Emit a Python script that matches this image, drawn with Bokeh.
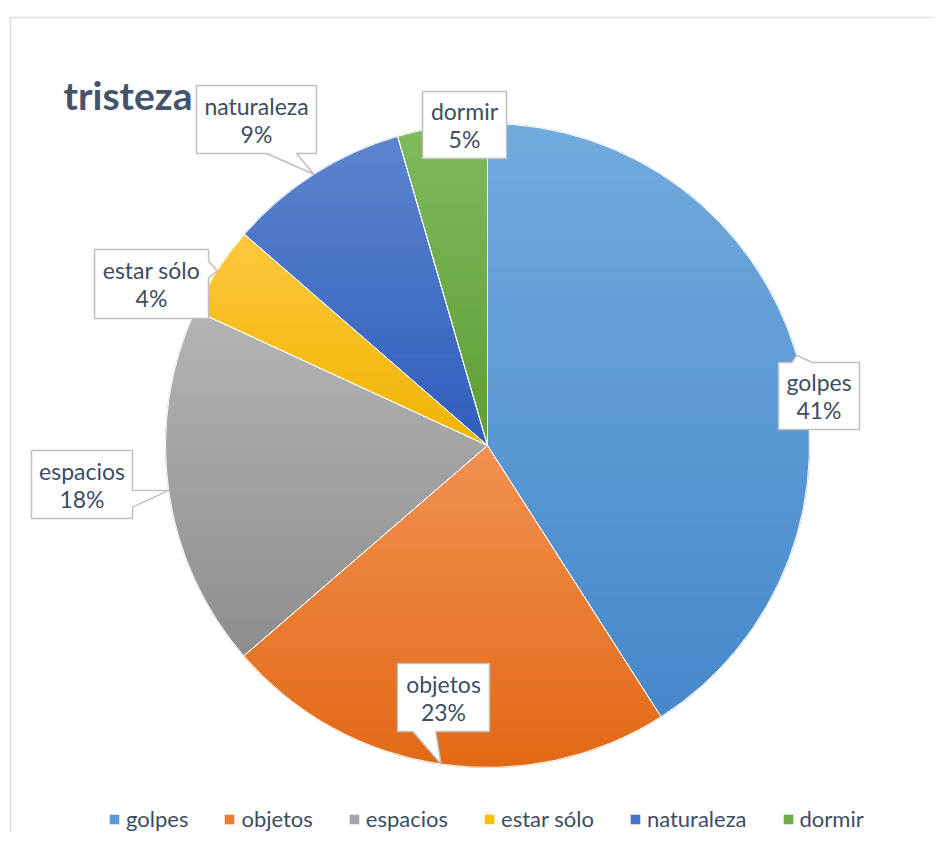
import math
from bokeh.plotting import figure
from bokeh.models import Range1d, Legend, LegendItem, ColumnDataSource
from bokeh.core.properties import value
from bokeh.embed import file_html
from bokeh.resources import INLINE

# ---------------- data ----------------
categories = ["golpes", "objetos", "espacios", "estar sólo", "naturaleza", "dormir"]
values = [40.9, 22.7, 18.2, 4.5, 9.1, 4.5]
pct_labels = ["41%", "23%", "18%", "4%", "9%", "5%"]
title_text = "tristeza"

# ---------------- style ----------------
base_colors = ["#5B9BD5", "#ED7D31", "#A5A5A5", "#FFC000", "#4472C4", "#70AD47"]
light_colors = ["#72aadd", "#f29152", "#b4b4b4", "#ffc83f", "#5c86ce", "#80ba5e"]
dark_colors = ["#4688cb", "#e26915", "#8e8e8e", "#f0b400", "#2f5dbc", "#5e9f33"]
text_color = "#404d5f"
title_color = "#44546A"
FONT = "Lato"

# ---------------- layout (image pixel space) ----------------
W, H = 933, 832
PAGE_H = 848


def dy(y):  # image y (down) -> data y (up)
    return PAGE_H - y


CX, CY, R = 487, 445, 322
label_box_cx = [818.5, 443, 81.5, 151, 256, 464]
label_box_cy = [395.5, 697, 484, 283.5, 119, 124.5]
label_box_w = [81, 92, 101, 114, 120, 84]
label_box_h = [67, 68, 68, 69, 68, 67]

p = figure(width=W, height=H, output_backend="svg", toolbar_location=None,
           x_range=Range1d(0, W), y_range=Range1d(PAGE_H - H, PAGE_H), min_border=0)
p.axis.visible = False
p.grid.visible = False
p.outline_line_color = None
p.background_fill_color = "white"

# chart border (top + left edges visible)
p.line(x=[10, 10, 1000], y=[dy(900), dy(17), dy(17)], line_color="#d9dee5", line_width=1.5)

# ---------------- pie ----------------
total = sum(values)
cum = [0.0]
for v in values:
    cum.append(cum[-1] + v / total)
starts = [math.pi / 2 - 2 * math.pi * cum[i + 1] for i in range(len(values))]
ends = [math.pi / 2 - 2 * math.pi * cum[i] for i in range(len(values))]

src = ColumnDataSource(dict(start=starts, end=ends, color=base_colors, cat=categories))
base = p.wedge(x=CX, y=dy(CY), radius=R, start_angle="start", end_angle="end",
               fill_color="color", line_alpha=0, source=src)


def clip_y(poly, yb, keep_above):
    out = []
    n = len(poly)
    for i in range(n):
        P = poly[i]
        Q = poly[(i + 1) % n]
        pin = P[1] >= yb if keep_above else P[1] <= yb
        qin = Q[1] >= yb if keep_above else Q[1] <= yb
        if pin:
            out.append(P)
        if pin != qin:
            t = (yb - P[1]) / (Q[1] - P[1])
            out.append((P[0] + t * (Q[0] - P[0]), yb))
    return out


def hex2rgb(h):
    h = h.lstrip("#")
    return tuple(int(h[i:i + 2], 16) for i in (0, 2, 4))


def mix(c1, c2, t):
    a, b = hex2rgb(c1), hex2rgb(c2)
    return "#%02x%02x%02x" % tuple(int(round(a[k] + (b[k] - a[k]) * t)) for k in range(3))


# gradient bands per slice (light at top, dark at bottom)
gx, gy, gc = [], [], []
NB = 40
for i in range(len(values)):
    a0 = 2 * math.pi * cum[i]
    a1 = 2 * math.pi * cum[i + 1]
    n = max(4, int((a1 - a0) / (math.pi / 180)))
    poly = [(CX, dy(CY))]
    for k in range(n + 1):
        a = a0 + (a1 - a0) * k / n
        poly.append((CX + R * math.sin(a), dy(CY) + R * math.cos(a)))
    ys = [q[1] for q in poly]
    ymin, ymax = min(ys), max(ys)
    for b in range(NB):
        y_top = ymax - (ymax - ymin) * b / NB
        y_bot = ymax - (ymax - ymin) * (b + 1) / NB
        band = clip_y(clip_y(poly, y_bot, True), y_top, False)
        if len(band) < 3:
            continue
        gx.append([q[0] for q in band])
        gy.append([q[1] for q in band])
        gc.append(mix(light_colors[i], dark_colors[i], (b + 0.5) / NB))
p.patches(xs=gx, ys=gy, fill_color=gc, line_color=gc, line_width=0.7)

# slice separators
p.wedge(x=CX, y=dy(CY), radius=R, start_angle="start", end_angle="end",
        fill_alpha=0, line_color="white", line_width=1, source=src)

# ---------------- data callouts ----------------
cxs, cys = [], []
l1x, l1y, l1t, l2t, l2y = [], [], [], [], []
for i in range(len(values)):
    mid = 2 * math.pi * (cum[i] + cum[i + 1]) / 2
    tx = CX + R * math.sin(mid)
    ty = CY - R * math.cos(mid)
    bx, by, w, h = label_box_cx[i], label_box_cy[i], label_box_w[i], label_box_h[i]
    l, r, t, b = bx - w / 2, bx + w / 2, by - h / 2, by + h / 2
    ddx, ddy = tx - bx, ty - by
    inside = l <= tx <= r and t <= ty <= b
    edge = None
    if not inside:
        dq = ddx * h / w
        if abs(ddy) > abs(dq):
            edge = "top" if ddy < 0 else "bottom"
        else:
            edge = "left" if ddx < 0 else "right"
    fx = (7, 10) if ddx > 0 else (2, 5)
    fy = (7, 10) if ddy > 0 else (2, 5)
    x1, x2 = l + w * fx[0] / 12, l + w * fx[1] / 12
    y1, y2 = t + h * fy[0] / 12, t + h * fy[1] / 12
    pts = [(l, t)]
    if edge == "top":
        pts += [(x1, t), (tx, ty), (x2, t)]
    pts.append((r, t))
    if edge == "right":
        pts += [(r, y1), (tx, ty), (r, y2)]
    pts.append((r, b))
    if edge == "bottom":
        pts += [(x2, b), (tx, ty), (x1, b)]
    pts.append((l, b))
    if edge == "left":
        pts += [(l, y2), (tx, ty), (l, y1)]
    cxs.append([q[0] for q in pts])
    cys.append([dy(q[1]) for q in pts])
    l1x.append(bx)
    l1y.append(dy(by - 14))
    l2y.append(dy(by + 14))
    l1t.append(categories[i])
    l2t.append(pct_labels[i])

p.patches(xs=cxs, ys=cys, fill_color="white", line_color="#bfbfbf", line_width=1.5)
p.text(x=l1x, y=l1y, text=l1t, text_align="center", text_baseline="middle",
       text_font=value(FONT), text_font_size="23px", text_color=text_color)
p.text(x=l1x, y=l2y, text=l2t, text_align="center", text_baseline="middle",
       text_font=value(FONT), text_font_size="23px", text_color=text_color)

# ---------------- title ----------------
p.text(x=[63], y=[dy(94)], text=[title_text], text_align="left", text_baseline="alphabetic",
       text_font=value(FONT), text_font_style="bold", text_font_size="39px",
       text_color=title_color)

# ---------------- legend ----------------
items = [LegendItem(label=categories[i], renderers=[base], index=i) for i in range(len(categories))]
legend = Legend(items=items, orientation="horizontal", location=(108, 0),
                glyph_width=12, glyph_height=12, label_standoff=6, spacing=35,
                padding=0, margin=0, border_line_alpha=0, background_fill_alpha=0,
                label_text_font=FONT, label_text_font_size="22px",
                label_text_color=text_color)
p.add_layout(legend, "center")

open("out.html", "w").write(file_html(p, INLINE))
